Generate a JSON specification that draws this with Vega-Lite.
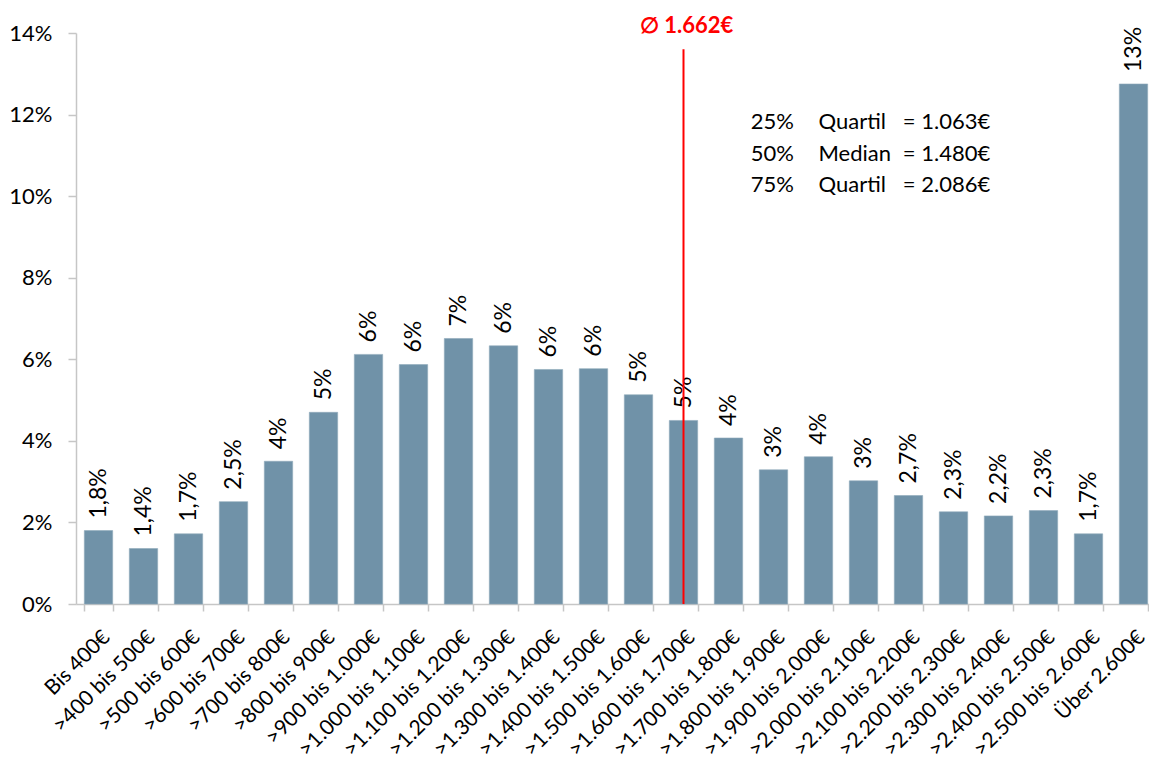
{
  "$schema": "https://vega.github.io/schema/vega-lite/v6.json",
  "width": 1080,
  "height": 571,
  "autosize": "none",
  "padding": {"left": 76, "top": 33, "right": 0, "bottom": 160},
  "background": "white",
  "config": {
    "font": "Lato",
    "view": {"stroke": null},
    "axis": {
      "grid": false,
      "title": null,
      "labelFont": "Lato",
      "labelFontSize": 22,
      "labelColor": "#000000",
      "domainColor": "#c6c6c6",
      "tickColor": "#c6c6c6",
      "domainWidth": 1.5,
      "tickWidth": 1.5
    }
  },
  "datasets": {
    "bins": [
      {"bin": "Bis 400€", "anteil": 1.8, "label": "1,8%"},
      {"bin": ">400 bis 500€", "anteil": 1.36, "label": "1,4%"},
      {"bin": ">500 bis 600€", "anteil": 1.72, "label": "1,7%"},
      {"bin": ">600 bis 700€", "anteil": 2.51, "label": "2,5%"},
      {"bin": ">700 bis 800€", "anteil": 3.5, "label": "4%"},
      {"bin": ">800 bis 900€", "anteil": 4.7, "label": "5%"},
      {"bin": ">900 bis 1.000€", "anteil": 6.12, "label": "6%"},
      {"bin": ">1.000 bis 1.100€", "anteil": 5.87, "label": "6%"},
      {"bin": ">1.100 bis 1.200€", "anteil": 6.51, "label": "7%"},
      {"bin": ">1.200 bis 1.300€", "anteil": 6.33, "label": "6%"},
      {"bin": ">1.300 bis 1.400€", "anteil": 5.75, "label": "6%"},
      {"bin": ">1.400 bis 1.500€", "anteil": 5.77, "label": "6%"},
      {"bin": ">1.500 bis 1.600€", "anteil": 5.13, "label": "5%"},
      {"bin": ">1.600 bis 1.700€", "anteil": 4.5, "label": "5%"},
      {"bin": ">1.700 bis 1.800€", "anteil": 4.07, "label": "4%"},
      {"bin": ">1.800 bis 1.900€", "anteil": 3.29, "label": "3%"},
      {"bin": ">1.900 bis 2.000€", "anteil": 3.61, "label": "4%"},
      {"bin": ">2.000 bis 2.100€", "anteil": 3.02, "label": "3%"},
      {"bin": ">2.100 bis 2.200€", "anteil": 2.66, "label": "2,7%"},
      {"bin": ">2.200 bis 2.300€", "anteil": 2.26, "label": "2,3%"},
      {"bin": ">2.300 bis 2.400€", "anteil": 2.16, "label": "2,2%"},
      {"bin": ">2.400 bis 2.500€", "anteil": 2.29, "label": "2,3%"},
      {"bin": ">2.500 bis 2.600€", "anteil": 1.72, "label": "1,7%"},
      {"bin": "Über 2.600€", "anteil": 12.75, "label": "13%"}
    ],
    "mittelwert": [
      {"bin": ">1.600 bis 1.700€", "betrag": 1662, "label": "∅ 1.662€"}
    ],
    "quartile": [
      {"quantil": "25%", "kennzahl": "Quartil", "betrag": "= 1.063€"},
      {"quantil": "50%", "kennzahl": "Median", "betrag": "= 1.480€"},
      {"quantil": "75%", "kennzahl": "Quartil", "betrag": "= 2.086€"}
    ]
  },
  "layer": [
    {
      "layer": [
        {
          "data": {"name": "bins"},
          "mark": {"type": "bar", "color": "#7092a8", "stroke": "#8fa9bb", "strokeWidth": 0.6},
          "encoding": {
            "x": {
              "field": "bin",
              "type": "nominal",
              "sort": null,
              "scale": {"paddingInner": 0.37, "paddingOuter": 0.185},
              "axis": {
                "labelAngle": -45,
                "labelFontSize": 21,
                "labelLimit": 400,
                "tickBand": "extent",
                "tickSize": 7,
                "labelPadding": 15,
                "labelOffset": 0,
                "labelOverlap": false
              }
            },
            "y": {
              "field": "anteil",
              "type": "quantitative",
              "scale": {"domain": [0, 14], "nice": false},
              "axis": {
                "values": [0, 2, 4, 6, 8, 10, 12, 14],
                "labelExpr": "datum.value + '%'",
                "tickSize": 8,
                "labelPadding": 16
              }
            }
          }
        },
        {
          "data": {"name": "bins"},
          "mark": {
            "type": "text",
            "angle": 270,
            "align": "left",
            "baseline": "middle",
            "dx": 12,
            "fontSize": 23,
            "color": "#000000"
          },
          "encoding": {
            "x": {"field": "bin", "type": "nominal", "sort": null},
            "y": {"field": "anteil", "type": "quantitative"},
            "text": {"field": "label"}
          }
        },
        {
          "data": {"name": "mittelwert"},
          "mark": {"type": "rule", "color": "#ff0000", "strokeWidth": 2},
          "encoding": {
            "x": {"field": "bin", "type": "nominal", "sort": null},
            "y": {"datum": 13.6},
            "y2": {"datum": 0}
          }
        },
        {
          "data": {"name": "mittelwert"},
          "mark": {
            "type": "text",
            "align": "center",
            "baseline": "middle",
            "dx": 3,
            "dy": -7,
            "fontSize": 22,
            "fontWeight": "bold",
            "color": "#ff0000"
          },
          "encoding": {
            "x": {"field": "bin", "type": "nominal", "sort": null},
            "y": {"datum": 14},
            "text": {"field": "label"}
          }
        }
      ]
    },
    {
      "data": {"name": "quartile"},
      "encoding": {
        "y": {
          "field": "quantil",
          "type": "ordinal",
          "scale": {"type": "point", "range": [89, 152], "padding": 0},
          "axis": null
        }
      },
      "layer": [
        {
          "mark": {"type": "text", "align": "left", "baseline": "middle", "fontSize": 22, "color": "#000000"},
          "encoding": {
            "x": {"datum": ">1.800 bis 1.900€", "type": "nominal", "bandPosition": -0.3},
            "text": {"field": "quantil"}
          }
        },
        {
          "mark": {"type": "text", "align": "left", "baseline": "middle", "fontSize": 22, "color": "#000000"},
          "encoding": {
            "x": {"datum": ">1.900 bis 2.000€", "type": "nominal", "bandPosition": 0.5},
            "text": {"field": "kennzahl"}
          }
        },
        {
          "mark": {"type": "text", "align": "left", "baseline": "middle", "fontSize": 22, "color": "#000000"},
          "encoding": {
            "x": {"datum": ">2.100 bis 2.200€", "type": "nominal", "bandPosition": 0.3},
            "text": {"field": "betrag"}
          }
        }
      ]
    }
  ],
  "resolve": {"scale": {"y": "independent"}}
}
